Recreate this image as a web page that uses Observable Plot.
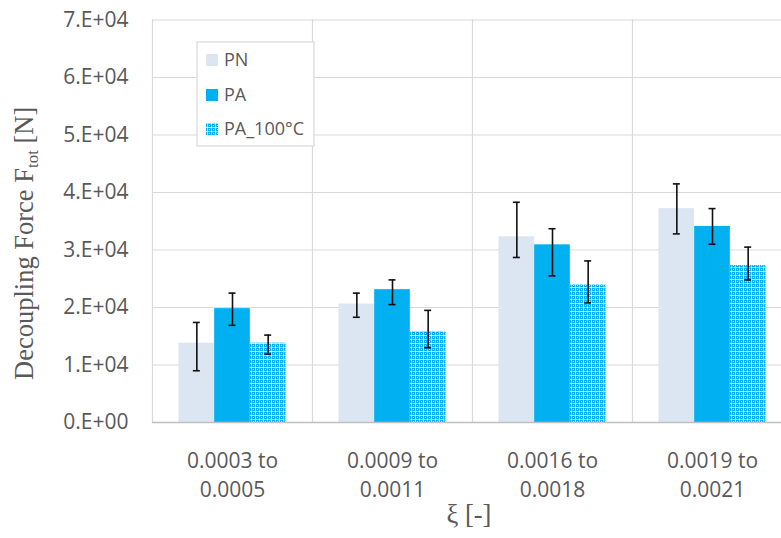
<!DOCTYPE html>
<html>
<head>
<meta charset="utf-8">
<script src="https://cdn.jsdelivr.net/npm/d3@7"></script>
<script src="https://cdn.jsdelivr.net/npm/@observablehq/plot@0.6"></script>
<style>
  html, body { margin: 0; padding: 0; background: white; }
  #chart { width: 781px; height: 538px; overflow: hidden; }
</style>
</head>
<body>
<div id="chart"></div>
<script>
// ---- data ----
const categories = ["0.0003 to\n0.0005", "0.0009 to\n0.0011", "0.0016 to\n0.0018", "0.0019 to\n0.0021"];
const seriesNames = ["PN", "PA", "PA_100°C"];
const valuesPN    = [13800, 20600, 32300, 37200];
const valuesPA    = [19800, 23100, 30900, 34100];
const valuesPA100 = [13800, 15800, 23900, 27300];
const lowPN    = [9000, 18300, 28700, 32800];
const highPN   = [17400, 22500, 38300, 41500];
const lowPA    = [16900, 20500, 25500, 31000];
const highPA   = [22500, 24800, 33700, 37200];
const lowPA100  = [11900, 13000, 20800, 24800];
const highPA100 = [15200, 19500, 28100, 30500];
const yTicks = [0, 10000, 20000, 30000, 40000, 50000, 60000, 70000];

// ---- build table ----
const seriesValues = [valuesPN, valuesPA, valuesPA100];
const seriesLow = [lowPN, lowPA, lowPA100];
const seriesHigh = [highPN, highPA, highPA100];
const table = seriesNames.map((s, i) => categories.map((c, j) => ({
  category: c, series: s, value: seriesValues[i][j], low: seriesLow[i][j], high: seriesHigh[i][j]
})));

const fills = ["#dce6f2", "#00b0f0", "url(#pa100pattern)"];

// layout (styles)
const xRange = [152, 792];
const step = (xRange[1] - xRange[0]) / categories.length; // 160
const outer = 26.5;
const bw = (step - 2 * outer) / 3;

const marks = [
  Plot.ruleY(yTicks, {stroke: "#d9d9d9", strokeWidth: 1.2}),
  Plot.ruleX(categories, {x: d => d, y1: 0, y2: 70000, dx: -step / 2, stroke: "#d9d9d9", strokeWidth: 1.2})
];
table.forEach((rows, i) => {
  const insetLeft = outer + i * bw;
  const insetRight = step - outer - (i + 1) * bw;
  marks.push(Plot.barY(rows, {x: "category", y: "value", fill: fills[i], insetLeft, insetRight}));
});
marks.push(Plot.ruleY([0], {stroke: "#bfbfbf", strokeWidth: 1.5}));
table.forEach((rows, i) => {
  const dx = outer + (i + 0.5) * bw - step / 2;
  const capInset = (step - 7) / 2;
  marks.push(Plot.ruleX(rows, {x: "category", y1: "low", y2: "high", dx, stroke: "#111", strokeWidth: 1.6}));
  marks.push(Plot.tickY(rows, {x: "category", y: "low", dx, insetLeft: capInset, insetRight: capInset, stroke: "#111", strokeWidth: 1.6}));
  marks.push(Plot.tickY(rows, {x: "category", y: "high", dx, insetLeft: capInset, insetRight: capInset, stroke: "#111", strokeWidth: 1.6}));
});
marks.push(Plot.text(categories, {
  x: d => d, y: () => 0, text: d => d, lineAnchor: "top", lineHeight: 1.38,
  dy: 25, fontSize: 21, fill: "#595959"
}));

const chart = Plot.plot({
  width: 781,
  height: 538,
  marginLeft: 152,
  marginRight: 0,
  marginTop: 19.5,
  marginBottom: 116,
  style: {fontFamily: "'Open Sans', sans-serif", fontSize: "21px", color: "#595959", background: "white"},
  x: {domain: categories, range: xRange, padding: 0, axis: null},
  y: {domain: [0, 70000], range: [422, 19.5], ticks: 7, tickSize: 0, tickPadding: 24, label: null,
      tickFormat: v => v === 0 ? "0.E+00" : (v / 10000) + ".E+04"},
  marks
});
document.getElementById("chart").appendChild(chart);

// ---- pattern, titles, legend ----
const svg = d3.select(chart);
const defs = svg.insert("defs", ":first-child");
const pat = defs.append("pattern").attr("id", "pa100pattern").attr("patternUnits", "userSpaceOnUse")
  .attr("width", 8).attr("height", 8);
pat.append("rect").attr("width", 8).attr("height", 8).attr("fill", "#00b0f0");
pat.append("rect").attr("x", 0).attr("y", 3).attr("width", 8).attr("height", 1).attr("fill", "#8fd8f6");
pat.append("rect").attr("x", 3).attr("y", 0).attr("width", 1).attr("height", 8).attr("fill", "#8fd8f6");
pat.append("rect").attr("x", 0).attr("y", 7).attr("width", 8).attr("height", 1).attr("fill", "#bfe8f9");
pat.append("rect").attr("x", 7).attr("y", 0).attr("width", 1).attr("height", 8).attr("fill", "#bfe8f9");
[[3,3],[7,7],[1,1],[5,5],[1,5],[5,1]].forEach(([a,b]) =>
  pat.append("rect").attr("x", a).attr("y", b).attr("width", 1).attr("height", 1).attr("fill", "#ffffff"));

const serif = "'Liberation Serif', 'Times New Roman', serif";
// Y title
const yt = svg.append("text")
  .attr("transform", "translate(33,380) rotate(-90)")
  .attr("font-family", serif)
  .attr("font-size", 26.5).attr("fill", "#595959").attr("text-anchor", "start");
yt.append("tspan").text("Decoupling Force F");
yt.append("tspan").attr("font-size", 17).attr("dy", 5).text("tot");
yt.append("tspan").attr("dy", -5).text(" [N]");

// X title
svg.append("text").attr("x", 469).attr("y", 523)
  .attr("font-family", serif)
  .attr("font-size", 26.5).attr("fill", "#595959").attr("text-anchor", "middle")
  .text("ξ [-]");

// Legend
const lg = svg.append("g").attr("text-anchor", "start");
lg.append("rect").attr("x", 197).attr("y", 42).attr("width", 117).attr("height", 104)
  .attr("fill", "white").attr("stroke", "#d9d9d9").attr("stroke-width", 1.2);
const legendY = [60, 95, 129];
seriesNames.forEach((s, i) => {
  lg.append("rect").attr("x", 206).attr("y", legendY[i] - 6).attr("width", 12).attr("height", 12).attr("fill", fills[i]);
  lg.append("text").attr("x", 224).attr("y", legendY[i]).attr("dy", "0.35em").attr("text-anchor", "start")
    .attr("font-family", "'Open Sans', sans-serif").attr("font-size", 18).attr("fill", "#595959").text(s);
});
</script>
</body>
</html>
